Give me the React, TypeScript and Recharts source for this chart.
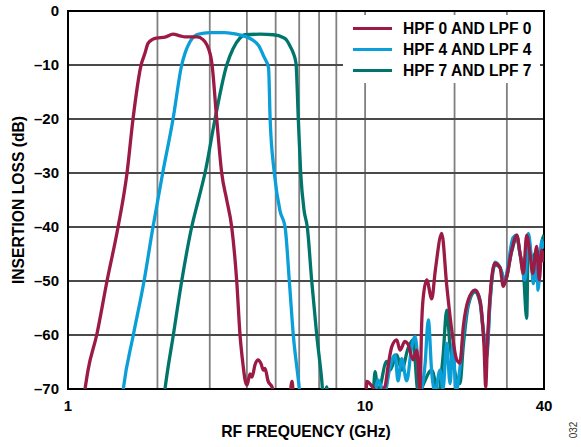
import React from 'react';
import { LineChart, Line, XAxis, YAxis, CartesianGrid, ReferenceArea, Legend } from 'recharts';

// Frequency (GHz), insertion loss (dB)
const hpf0lpf0: [number, number][] = [
  [1.12, -73], [1.141, -70], [1.168, -66.5], [1.249, -60], [1.353, -50], [1.474, -40], [1.58, -30],
  [1.655, -20], [1.762, -10], [1.816, -7.8], [1.859, -6], [1.932, -5.2], [1.989, -5.0], [2.121, -4.85],
  [2.257, -4.3], [2.382, -4.6], [2.477, -4.8], [2.718, -4.8], [2.848, -5.3], [2.937, -6.3], [3.05, -9.7],
  [3.166, -20], [3.291, -30], [3.422, -35], [3.556, -40], [3.697, -50], [3.793, -60], [3.882, -65.5],
  [3.943, -68.3], [4.004, -69.3], [4.098, -67.2], [4.162, -67.8], [4.26, -65.5], [4.36, -64.6],
  [4.463, -65.3], [4.544, -66.5], [4.604, -66.2], [4.712, -68.5], [4.86, -69.6], [5.0, -72], [5.55, -72],
  [5.675, -68.6], [5.764, -72], [10.05, -72], [10.13, -68.6], [10.52, -69.4], [11.05, -70.8],
  [11.67, -69.5], [11.94, -65.9], [12.29, -62.2], [12.78, -60.9], [13.1, -62.8], [13.62, -61.2],
  [13.94, -61.7], [14.5, -64.6], [14.92, -62.8], [15.3, -70.5], [15.5, -58], [15.66, -53.5],
  [16.12, -49.8], [16.76, -53.3], [17.23, -48], [18.11, -41.2], [18.82, -50.8], [19.56, -59],
  [20.34, -64.6], [20.86, -65.2], [21.4, -58.5], [22.25, -53.5], [23.43, -51.7], [24.04, -52.5],
  [24.69, -56], [25.13, -62], [25.46, -69.6], [25.78, -62], [26.33, -52.9], [27.36, -46.7],
  [28.44, -47.5], [29.18, -51], [29.96, -49.2], [31.15, -44.3], [32.38, -41.5], [33.22, -44.9],
  [34.08, -48.6], [34.98, -41.5], [35.89, -45], [36.65, -48.6], [37.8, -43.6], [38.57, -49.8],
  [39.29, -44.3], [40, -46.5],
];

const hpf4lpf4: [number, number][] = [
  [1.52, -72], [1.535, -70], [1.659, -60], [1.803, -50], [1.932, -40], [2.083, -30], [2.257, -20],
  [2.414, -10], [2.477, -7.8], [2.574, -5.7], [2.738, -4.3], [3.006, -4.0], [3.377, -4.0], [3.697, -4.3],
  [3.943, -4.7], [4.162, -5.3], [4.393, -6.5], [4.567, -8.5], [4.731, -10.5], [4.79, -20], [4.948, -30],
  [5.17, -37], [5.378, -40], [5.558, -50], [5.732, -60], [6.004, -70], [6.05, -72], [10.6, -72],
  [10.8, -70.5], [11.05, -68.3], [11.31, -69.5], [11.67, -70.3], [12.13, -65.9], [12.61, -63.7],
  [12.9, -68.5], [13.28, -64.4], [13.8, -68.5], [14.35, -62.2], [14.72, -60.3], [14.96, -63],
  [15.3, -70.5], [15.91, -65.5], [16.32, -57.2], [16.76, -67], [17.19, -70.5], [17.87, -66.5],
  [18.29, -70], [18.82, -61.5], [19.31, -69], [19.76, -61.5], [20.23, -70.5], [20.86, -66],
  [21.4, -60], [22.25, -54], [23.43, -51.7], [24.36, -53.5], [24.94, -58.5], [25.66, -64],
  [26.33, -54], [27.36, -46.5], [28.44, -47.5], [29.57, -50], [30.27, -47], [31.46, -42],
  [32.38, -41.5], [33.22, -45], [34.52, -49.8], [35.42, -41.2], [36.17, -45], [36.82, -50.5],
  [37.8, -45], [38.19, -51.7], [39.29, -42.5], [40, -44],
];

const hpf7lpf7: [number, number][] = [
  [2.1, -72], [2.121, -70], [2.262, -60], [2.414, -50], [2.608, -40], [2.746, -35], [2.891, -30],
  [3.125, -20], [3.422, -10], [3.593, -7], [3.793, -5], [3.943, -4.4], [4.428, -4.3], [4.909, -4.4],
  [5.293, -4.9], [5.447, -5.4], [5.587, -6.5], [5.732, -7.8], [5.853, -9.7], [5.958, -20], [6.07, -30],
  [6.23, -36.9], [6.388, -40], [6.611, -50], [6.873, -60], [7.144, -68.3], [7.217, -71], [7.3, -71],
  [7.426, -69.6], [7.5, -72], [10.6, -72], [10.8, -66.8], [11.05, -70.5], [11.82, -64.9],
  [12.13, -66.5], [12.78, -63.7], [13.28, -66.5], [13.94, -62.5], [14.5, -60.9], [15.07, -70.5],
  [16.76, -66.5], [17.6, -70.5], [18.29, -64], [18.82, -55.4], [19.31, -62], [20.07, -67],
  [20.86, -69], [21.4, -62], [22.25, -54.5], [23.43, -52], [24.36, -54], [24.94, -59], [25.66, -63],
  [26.33, -53.5], [27.36, -47], [28.44, -47.5], [29.57, -50], [31.15, -44.5], [32.38, -41.8],
  [33.22, -45], [34.08, -48], [34.98, -56.9], [35.42, -42], [36.37, -46], [37.8, -44.5],
  [38.57, -48], [39.29, -43], [40, -41.5],
];

const freqTicks = [1, 10, 40];
const lossTicks = [0, -10, -20, -30, -40, -50, -60, -70];
const gridFreqs = [2, 3, 4, 5, 6, 7, 8, 9, 10, 20, 30];

const seriesNames = ['HPF 0 AND LPF 0', 'HPF 4 AND LPF 4', 'HPF 7 AND LPF 7'];
const seriesColors = ['#9B1B45', '#0A9FD9', '#00756C'];

const toData = (pts: [number, number][]) => pts.map(([f, v]) => ({ f, v }));

const FONT = '"Liberation Sans", Arial, Helvetica, sans-serif';

const renderLegend = () => (
  <div
    style={{
      background: '#fff',
      width: 197,
      height: 68,
      paddingTop: 3,
      boxSizing: 'border-box',
      fontFamily: FONT,
    }}
  >
    {seriesNames.map((name, i) => (
      <div key={name} style={{ display: 'flex', alignItems: 'center', height: 21 }}>
        <span
          style={{
            display: 'inline-block',
            width: 39,
            height: 3.5,
            background: seriesColors[i],
            marginLeft: 10,
            marginRight: 11,
          }}
        />
        <span style={{ fontSize: 15.6, fontWeight: 700, color: '#000', whiteSpace: 'nowrap' }}>{name}</span>
      </div>
    ))}
  </div>
);

const tickStyle = { fill: '#000', fontSize: 15, fontWeight: 700, fontFamily: FONT };

export default function App() {
  const order = [2, 1, 0];
  const datas = [toData(hpf0lpf0), toData(hpf4lpf4), toData(hpf7lpf7)];
  return (
    <div style={{ position: 'absolute', left: 0, top: 0, width: 581, height: 447, background: '#fff', fontFamily: FONT }}>
      <LineChart
        width={581}
        height={447}
        margin={{ top: 11, right: 37, bottom: 8, left: 10 }}
        style={{ fontFamily: FONT }}
      >
        <CartesianGrid xAxisId="grid" horizontal={false} stroke="#808080" strokeWidth={1.8} />
        <CartesianGrid vertical={false} stroke="#4a4a4a" strokeWidth={1.8} />
        <XAxis
          xAxisId="grid"
          type="number"
          dataKey="f"
          scale="log"
          domain={[1, 40]}
          ticks={gridFreqs}
          allowDataOverflow
          hide
        />
        <XAxis
          type="number"
          dataKey="f"
          scale="log"
          domain={[1, 40]}
          ticks={freqTicks}
          allowDataOverflow
          height={50}
          tickSize={0}
          tickMargin={11}
          axisLine={false}
          tick={tickStyle}
          label={{
            value: 'RF FREQUENCY (GHz)',
            position: 'insideBottom',
            offset: 2,
            style: { fill: '#000', fontSize: 15.7, fontWeight: 700, fontFamily: FONT },
          }}
        />
        <YAxis
          type="number"
          domain={[-70, 0]}
          ticks={lossTicks}
          allowDataOverflow
          width={58}
          tickSize={0}
          tickMargin={9}
          axisLine={false}
          tick={tickStyle}
          tickFormatter={(v: number) => String(v).replace('-', '\u2013')}
          label={{
            value: 'INSERTION LOSS (dB)',
            angle: -90,
            position: 'insideLeft',
            offset: 8,
            style: { textAnchor: 'middle', fill: '#000', fontSize: 15.7, fontWeight: 700, fontFamily: FONT },
          }}
        />
        {order.map((i) => (
          <Line
            key={seriesNames[i]}
            name={seriesNames[i]}
            data={datas[i]}
            dataKey="v"
            type="monotone"
            stroke={seriesColors[i]}
            strokeWidth={3.3}
            dot={false}
            activeDot={false}
            isAnimationActive={false}
          />
        ))}
        <ReferenceArea x1={1} x2={40} y1={-70} y2={0} fill="none" fillOpacity={0} stroke="#000" strokeWidth={2} />
        <Legend
          layout="vertical"
          align="center"
          verticalAlign="middle"
          wrapperStyle={{ left: 343, top: 15, width: 197, height: 68 }}
          content={renderLegend}
        />
      </LineChart>
      <div
        style={{
          position: 'absolute',
          left: 566,
          top: 424,
          fontSize: 10,
          color: '#333',
          fontFamily: FONT,
          transform: 'rotate(-90deg)',
          transformOrigin: 'center',
          lineHeight: '12px',
        }}
      >
        032
      </div>
    </div>
  );
}
